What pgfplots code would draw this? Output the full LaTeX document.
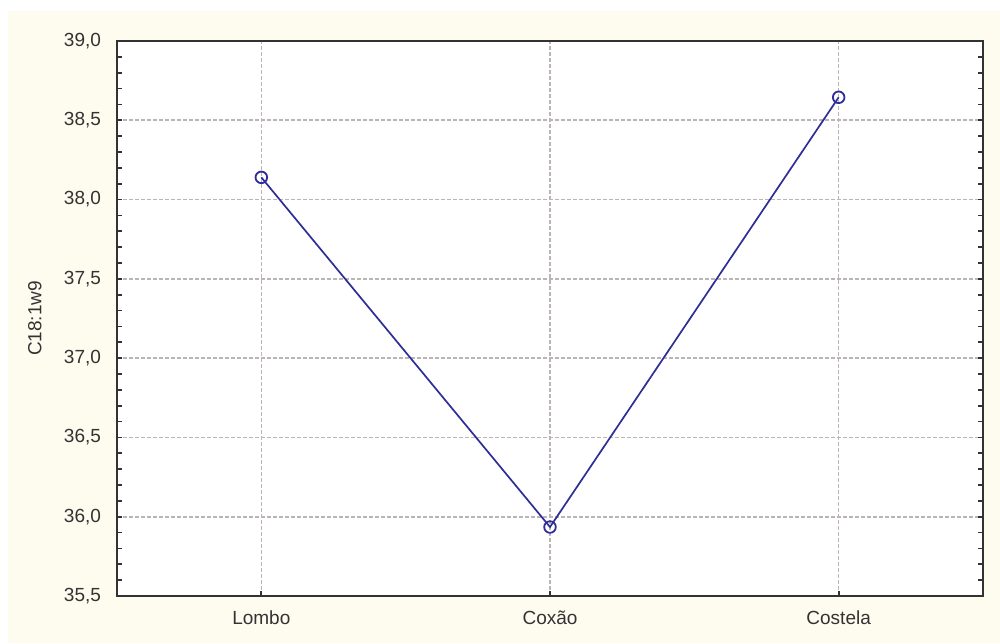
\documentclass[border=0pt]{standalone}
\usepackage{pgfplots}
\pgfplotsset{compat=1.18}
\usepackage{fontspec}
\setmainfont{Liberation Sans}
\definecolor{cream}{HTML}{FEFBEF}
\definecolor{gridc}{HTML}{BDB5B5}
\definecolor{linec}{HTML}{2E2E96}
\definecolor{txt}{HTML}{333333}
\begin{document}
\begin{tikzpicture}[x=1pt,y=1pt]
\useasboundingbox (0,0) rectangle (500,321.5);
\fill[white] (0,0) rectangle (500,321.5);
\fill[cream] (4,0) rectangle (500,316);
\begin{axis}[
  at={(58.5pt,23.5pt)}, anchor=south west,
  scale only axis, width=433pt, height=277.5pt,
  xmin=-0.5, xmax=2.5, ymin=35.5, ymax=39,
  xtick={0,1,2}, xticklabels={Lombo,Coxão,Costela},
  ytick={35.5,36,36.5,37,37.5,38,38.5,39},
  minor y tick num=4,
  xtick pos=lower, ytick pos=both,
  tick align=inside,
  major tick length=2.5pt, minor tick length=2.5pt,
  tick style={txt, line width=0.9pt},
  axis line style={txt, line width=1.1pt},
  grid=major,
  major grid style={gridc, line width=0.8pt, dash pattern=on 1.8pt off 1.2pt},
  axis background/.style={fill=white},
  /pgf/number format/.cd, fixed, fixed zerofill, precision=1, use comma, assume math mode=true,
  /pgfplots/.cd,
  tick label style={font=\fontsize{9.5pt}{11pt}\selectfont, text=txt},
  yticklabel style={xshift=-4.5pt},
  xticklabel style={yshift=-4pt},
  ylabel={C18:1w9},
  ylabel style={at={(axis description cs:-0.095,0.5)}, anchor=center, font=\fontsize{9.5pt}{11pt}\selectfont, text=txt},
]
\addplot[linec, line width=0.85pt, mark=o, mark size=2.9pt, mark options={fill=white, line width=0.9pt}]
  coordinates {(0,38.14) (1,35.935) (2,38.645)};
\end{axis}
\end{tikzpicture}
\end{document}
